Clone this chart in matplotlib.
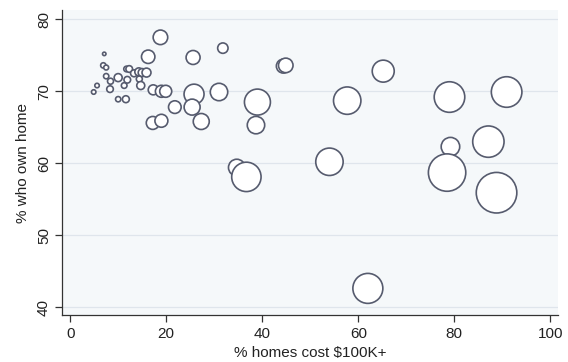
import numpy as np
import matplotlib
matplotlib.use('Agg')
import matplotlib.pyplot as plt

plt.rcParams['font.family'] = ['Liberation Sans', 'DejaVu Sans']

# % homes cost $100K+ , % who own home, weight (bubble area)
pct_100k = [7.1, 6.9, 7.5, 7.5, 8.4, 5.6, 4.9, 8.3, 10.0, 10.0,
            11.6, 11.25, 11.9, 11.75, 12.3, 13.3, 14.3, 15.0, 14.4, 14.7,
            15.9, 16.25, 17.3, 18.8, 19.0, 19.9, 17.2, 19.0, 21.8, 25.6,
            25.8, 25.4, 27.3, 31.8, 31.0, 39.0, 38.7, 44.4, 44.9, 65.2,
            57.7, 79.0, 90.9, 79.2, 87.1, 54.0, 34.7, 36.7, 78.5, 88.8,
            62.0]
pct_own = [75.2, 73.6, 73.3, 72.1, 71.4, 70.8, 69.9, 70.3, 71.9, 68.9,
           68.9, 70.8, 71.6, 73.1, 73.1, 72.5, 72.7, 72.6, 71.7, 70.8,
           72.6, 74.8, 70.2, 77.5, 70.0, 70.0, 65.6, 65.9, 67.8, 74.7,
           69.6, 67.8, 65.8, 76.0, 69.9, 68.5, 65.3, 73.5, 73.6, 72.8,
           68.7, 69.2, 69.9, 62.3, 63.0, 60.2, 59.4, 58.1, 58.7, 55.9,
           42.6]
weight = [3, 7, 6, 7, 9, 5, 5, 11, 16, 7,
          12, 8, 11, 8, 11, 12, 16, 16, 9, 16,
          20, 45, 25, 53, 36, 36, 42, 42, 40, 49,
          100, 64, 64, 27, 76, 169, 76, 49, 53, 121,
          188, 234, 234, 86, 246, 188, 69, 216, 350, 412,
          225]

fig = plt.figure(figsize=(5.68, 3.62), dpi=100)
ax = fig.add_axes([62 / 568, 1 - 315 / 362, 496 / 568, 305 / 362])
ax.set_facecolor('#f5f8fa')

ax.scatter(pct_100k, pct_own, s=np.array(weight) * 2.07, facecolors='white',
           edgecolors='#565b6e', linewidths=1.2, zorder=3)

ax.set_xlim(-1.7, 101.6)
ax.set_ylim(38.9, 81.3)
ax.set_xticks([0, 20, 40, 60, 80, 100])
ax.set_yticks([40, 50, 60, 70, 80])
ax.yaxis.grid(True, color='#dfe5ec', linewidth=0.9, zorder=0)
ax.set_axisbelow(True)

for side in ['top', 'right']:
    ax.spines[side].set_visible(False)
for side in ['left', 'bottom']:
    ax.spines[side].set_color('#333333')
    ax.spines[side].set_linewidth(0.9)

ax.tick_params(axis='both', direction='out', length=5, width=0.9,
               color='#333333', labelsize=11, labelcolor='#222222')
ax.tick_params(axis='y', labelrotation=90, pad=3)
ax.tick_params(axis='x', pad=4)
for lbl in ax.get_yticklabels():
    lbl.set_verticalalignment('center')

ax.set_xlabel('% homes cost $100K+', fontsize=11, color='#222222', labelpad=3)
ax.set_ylabel('% who own home', fontsize=11, color='#222222', labelpad=5)

fig.savefig('out.png', dpi=100)
